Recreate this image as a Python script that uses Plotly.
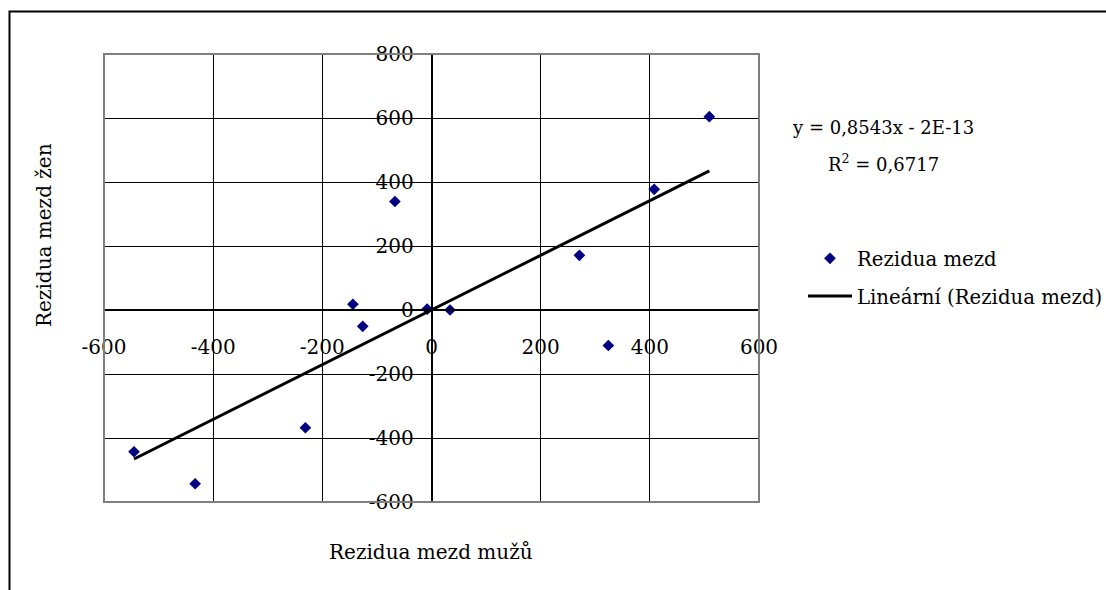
import plotly.graph_objects as go

# Residuals of men's wages (x) and women's wages (y)
rez_muzi = [-545, -433, -231, -144, -126, -67, -8, 34, 271, 324, 408, 509]
rez_zeny = [-443, -543, -368, 18, -51, 339, 3, 0, 171, -111, 377, 604]

# Linear trend of the residuals
SLOPE = 0.8543
INTERCEPT = -2e-13
R2 = 0.6717

x_ticks = [-600, -400, -200, 0, 200, 400, 600]
y_ticks = [-600, -400, -200, 0, 200, 400, 600, 800]

X_MIN, X_MAX = x_ticks[0], x_ticks[-1]
Y_MIN, Y_MAX = y_ticks[0], y_ticks[-1]

W, H = 1106, 590
ML, MR, MT, MB = 104, 347, 54, 88
PW, PH = W - ML - MR, H - MT - MB


def px(xp):
    return (xp - ML) / PW


def py(yp):
    return (H - MB - yp) / PH


FONT = "DejaVu Serif"

trend_x = [min(rez_muzi), max(rez_muzi)]
trend_y = [SLOPE * v + INTERCEPT for v in trend_x]

fig = go.Figure()
fig.add_trace(go.Scatter(
    x=rez_muzi, y=rez_zeny, mode="markers", name="Rezidua mezd",
    legendgroup="a",
    marker=dict(symbol="diamond", size=9, color="#000080"),
))
fig.add_trace(go.Scatter(
    x=trend_x, y=trend_y, mode="lines", name="Lineární (Rezidua mezd)",
    legendgroup="b",
    line=dict(color="black", width=3),
))

eq_text = f"y = {SLOPE:.4f}x - {abs(INTERCEPT):.0E}".replace(".", ",")
r2_text = f"R<sup>2</sup> = {R2:.4f}".replace(".", ",")

fig.update_layout(
    width=W, height=H,
    margin=dict(l=ML, r=MR, t=MT, b=MB, pad=0, autoexpand=False),
    paper_bgcolor="white", plot_bgcolor="white",
    font=dict(family=FONT, size=20, color="black"),
    xaxis=dict(
        range=[X_MIN, X_MAX], tickvals=x_ticks,
        ticktext=[str(v) for v in x_ticks],
        anchor="free", position=(0 - Y_MIN) / (Y_MAX - Y_MIN),
        showline=True, linecolor="black", linewidth=1.5,
        showgrid=True, gridcolor="#000000", gridwidth=1,
        zeroline=False, ticks="", ticklabelstandoff=19,
        tickfont=dict(size=20),
    ),
    yaxis=dict(
        range=[Y_MIN, Y_MAX], tickvals=y_ticks,
        ticktext=[str(v) for v in y_ticks],
        anchor="free", position=(0 - X_MIN) / (X_MAX - X_MIN),
        showline=True, linecolor="black", linewidth=1.5,
        showgrid=True, gridcolor="#000000", gridwidth=1,
        zeroline=False, ticks="outside", ticklen=8, tickcolor="black",
        ticklabelstandoff=5, tickfont=dict(size=20),
    ),
    showlegend=True,
    legend=dict(
        x=px(803), y=py(239), xanchor="left", yanchor="top",
        bgcolor="rgba(0,0,0,0)", font=dict(size=19.7),
        itemwidth=44, traceorder="grouped", tracegroupgap=9,
    ),
    shapes=[
        dict(type="rect", xref="paper", yref="paper", x0=0, x1=1, y0=0, y1=1,
             line=dict(color="#808080", width=2), layer="above"),
        dict(type="rect", xref="paper", yref="paper",
             x0=px(9.5), x1=px(1300), y0=py(800), y1=py(11.5),
             line=dict(color="black", width=2)),
    ],
    annotations=[
        dict(text=eq_text, x=px(883), y=py(128), xref="paper", yref="paper",
             xanchor="center", yanchor="middle", showarrow=False,
             font=dict(size=18)),
        dict(text=r2_text, x=px(883.5), y=py(163), xref="paper", yref="paper",
             xanchor="center", yanchor="middle", showarrow=False,
             font=dict(size=18)),
        dict(text="Rezidua mezd žen", textangle=-90, x=px(44), y=py(235),
             xref="paper", yref="paper", xanchor="center", yanchor="middle",
             showarrow=False, font=dict(size=20)),
        dict(text="Rezidua mezd mužů", x=px(431), y=py(552),
             xref="paper", yref="paper", xanchor="center", yanchor="middle",
             showarrow=False, font=dict(size=20)),
    ],
)

fig.write_html("out.html")
